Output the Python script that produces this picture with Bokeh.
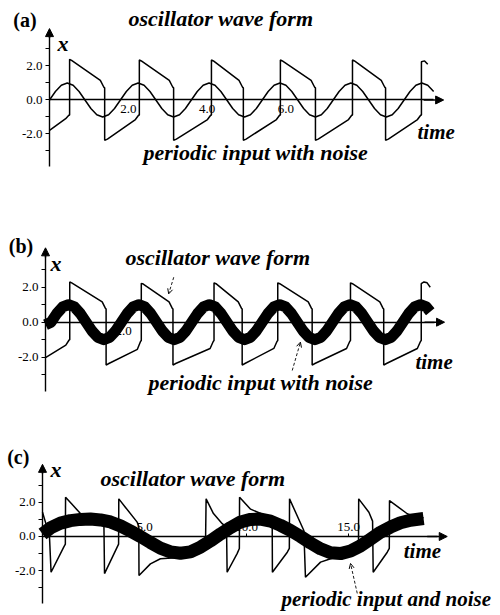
from bokeh.plotting import figure
from bokeh.models import (Range1d, LinearAxis, FixedTicker, PrintfTickFormatter,
                          Arrow, NormalHead, OpenHead, Label)
from bokeh.layouts import column
from bokeh.embed import file_html
from bokeh.resources import INLINE

SERIF = "Liberation Serif"

# ---------------- data ----------------
# panel (a): periodic input (thin) and oscillator wave form
a_in_t = [0.0, 0.15, 0.3, 0.45, 0.6, 0.75, 0.9, 1.05, 1.2, 1.35, 1.5, 1.65,
          1.8, 1.95, 2.1, 2.25, 2.4, 2.55, 2.7, 2.85, 3.0, 3.15, 3.3, 3.45,
          3.6, 3.75, 3.9, 4.05, 4.2, 4.35, 4.5, 4.65, 4.8, 4.95, 5.1, 5.25,
          5.4, 5.55, 5.7, 5.85, 6.0, 6.15, 6.3, 6.45, 6.6, 6.75, 6.9, 7.05,
          7.2, 7.35, 7.5, 7.65, 7.8, 7.95, 8.1, 8.25, 8.4, 8.55, 8.7, 8.85,
          9.0, 9.15, 9.3, 9.45, 9.6, 9.75]
a_in_x = [0.0, 0.5, 0.87, 1.0, 0.87, 0.5, 0.0, -0.5, -0.87, -1.0, -0.87, -0.5,
          0.0, 0.5, 0.87, 1.0, 0.87, 0.5, 0.0, -0.5, -0.87, -1.0, -0.87, -0.5,
          0.0, 0.5, 0.87, 1.0, 0.87, 0.5, 0.0, -0.5, -0.87, -1.0, -0.87, -0.5,
          0.0, 0.5, 0.87, 1.0, 0.87, 0.5, 0.0, -0.5, -0.87, -1.0, -0.87, -0.5,
          0.0, 0.5, 0.87, 1.0, 0.87, 0.5, 0.0, -0.5, -0.87, -1.0, -0.87, -0.5,
          0.0, 0.5, 0.87, 1.0, 0.87, 0.5]
a_osc_t = [0.0, 0.41, 0.49, 0.51, 0.51, 0.56, 1.29, 1.38, 1.40, 1.40, 1.47,
           2.18, 2.26, 2.28, 2.28, 2.33, 3.04, 3.13, 3.15, 3.15, 3.22,
           4.01, 4.09, 4.11, 4.11, 4.16, 4.81, 4.90, 4.92, 4.92, 4.99,
           5.76, 5.84, 5.86, 5.86, 5.91, 6.64, 6.73, 6.75, 6.75, 6.82,
           7.59, 7.67, 7.69, 7.69, 7.74, 8.42, 8.51, 8.53, 8.53, 8.60,
           9.34, 9.42, 9.44, 9.44, 9.52, 9.60]
a_osc_x = [-1.79, -1.10, -0.90, -0.88, 2.39, 2.33, 1.15, 0.75, 0.72, -2.37, -2.30,
           -1.15, -0.90, -0.88, 2.35, 2.30, 1.15, 0.75, 0.72, -2.37, -2.30,
           -1.15, -0.90, -0.88, 2.35, 2.30, 1.15, 0.75, 0.72, -2.37, -2.30,
           -1.15, -0.90, -0.88, 2.35, 2.30, 1.15, 0.75, 0.72, -2.37, -2.30,
           -1.15, -0.90, -0.88, 2.35, 2.30, 1.15, 0.75, 0.72, -2.37, -2.30,
           -1.15, -0.90, -0.88, 2.25, 2.30, 2.10]
a_xticks = [2.0, 4.0, 6.0]

# panel (b): periodic input with noise (thick band) and oscillator
b_in_t = [0.0, 0.14, 0.29, 0.44, 0.59, 0.74, 0.89, 1.04, 1.19, 1.34, 1.49, 1.64,
          1.79, 1.94, 2.09, 2.24, 2.39, 2.54, 2.69, 2.84, 2.99, 3.14, 3.29,
          3.44, 3.59, 3.74, 3.89, 4.04, 4.19, 4.34, 4.49, 4.64, 4.79, 4.94,
          5.09, 5.24, 5.39, 5.54, 5.69, 5.84, 5.99, 6.14, 6.29, 6.44, 6.59,
          6.74, 6.89, 7.04, 7.19, 7.34, 7.49, 7.64, 7.79, 7.94, 8.09, 8.24,
          8.39, 8.54, 8.69, 8.84, 8.99, 9.14, 9.29, 9.44, 9.59, 9.74, 9.84]
b_in_x = [-0.15, 0.0, 0.5, 0.87, 1.0, 0.87, 0.5, 0.0, -0.5, -0.87, -1.0, -0.87,
          -0.5, 0.0, 0.5, 0.87, 1.0, 0.87, 0.5, 0.0, -0.5, -0.87, -1.0,
          -0.87, -0.5, 0.0, 0.5, 0.87, 1.0, 0.87, 0.5, 0.0, -0.5, -0.87,
          -1.0, -0.87, -0.5, 0.0, 0.5, 0.87, 1.0, 0.87, 0.5, 0.0, -0.5,
          -0.87, -1.0, -0.87, -0.5, 0.0, 0.5, 0.87, 1.0, 0.87, 0.5, 0.0,
          -0.5, -0.87, -1.0, -0.87, -0.5, 0.0, 0.5, 0.87, 1.0, 0.87, 0.6]
b_osc_t = [0.0, 0.52, 0.60, 0.62, 0.62, 0.67, 1.45, 1.53, 1.55, 1.55, 1.62,
           2.35, 2.43, 2.45, 2.45, 2.50, 3.16, 3.24, 3.26, 3.26, 3.33,
           4.21, 4.29, 4.31, 4.31, 4.36, 4.93, 5.01, 5.03, 5.03, 5.10,
           5.84, 5.92, 5.94, 5.94, 5.99, 6.72, 6.80, 6.82, 6.82, 6.89,
           7.70, 7.78, 7.80, 7.80, 7.85, 8.55, 8.63, 8.65, 8.65, 8.72,
           9.51, 9.59, 9.61, 9.61, 9.68, 9.76, 9.84]
b_osc_x = [-2.02, -1.31, -1.03, -1.00, 2.30, 2.25, 1.16, 0.80, 0.75, -2.45, -2.36,
           -1.55, -1.10, -1.05, 2.22, 2.18, 1.16, 0.80, 0.75, -2.45, -2.36,
           -1.50, -1.10, -1.05, 2.25, 2.20, 1.16, 0.80, 0.75, -2.45, -2.36,
           -1.50, -1.10, -1.05, 2.25, 2.20, 1.16, 0.80, 0.75, -2.45, -2.36,
           -1.50, -1.10, -1.05, 2.25, 2.20, 1.16, 0.80, 0.75, -2.45, -2.36,
           -1.50, -1.10, -1.05, 2.20, 2.30, 2.25, 2.00]
b_xticks = [2.0]

# panel (c): slow periodic input and noise (thick band) and spiking oscillator
c_in_t = [0.0, 0.39, 0.88, 1.37, 1.86, 2.35, 2.84, 3.33, 3.82, 4.31, 4.80,
          5.29, 5.78, 6.27, 6.76, 7.25, 7.75, 8.24, 8.73, 9.22, 9.71, 10.2,
          10.69, 11.18, 11.67, 12.16, 12.65, 13.14, 13.63, 14.12, 14.61,
          15.1, 15.59, 16.08, 16.57, 17.06, 17.55, 18.04, 18.68]
c_in_x = [0.15, 0.5, 0.78, 0.93, 1.0, 1.02, 0.97, 0.85, 0.62, 0.32, 0.0,
          -0.35, -0.68, -0.9, -0.98, -0.9, -0.62, -0.25, 0.15, 0.52, 0.85, 1.0,
          1.02, 0.9, 0.65, 0.35, 0.0, -0.38, -0.72, -0.95, -1.0,
          -0.85, -0.55, -0.15, 0.25, 0.55, 0.8, 0.95, 1.05]
c_osc_t = [0.00, 0.34, 0.42, 1.04, 1.12, 1.13, 1.47, 1.95, 2.45, 3.01, 3.04,
           3.66, 3.73, 3.74, 4.07, 4.64, 4.72, 4.73, 5.29, 5.78, 6.52, 7.25,
           7.75, 7.99, 8.02, 8.38, 8.81, 9.02, 9.05, 9.54, 9.65, 9.66, 10.20,
           10.78, 11.18, 11.26, 11.27, 12.00, 12.10, 12.11, 12.81, 12.89,
           13.63, 14.12, 14.85, 15.34, 15.49, 15.50, 16.00, 16.18, 16.21,
           16.90, 17.00, 17.01, 17.88, 18.28, 18.68]
c_osc_x = [1.42, 0.05, -2.09, -0.62, -0.45, 2.30, 1.85, 1.23, 1.00, 0.75, -2.17,
           -0.62, -0.45, 2.20, 1.70, 0.84, 0.60, -2.28, -1.60, -1.30, -1.25, -1.15,
           -0.80, -0.50, 2.20, 1.34, 0.75, 0.55, -2.09, -1.00, -0.70, 2.30, 1.60,
           1.30, 0.85, 0.70, -2.09, -0.92, -0.70, 2.20, 0.35, -2.38,
           -1.50, -1.30, -1.05, -0.60, -0.40, 2.20, 1.42, 0.90, -2.09,
           -0.92, -0.70, 2.10, 1.33, 1.15, 1.10]
c_xticks = [5.0, 10.0, 15.0]

y_major = [-2.0, 0.0, 2.0]
y_minor = [-3.0, -1.0, 1.0, 3.0]


def panel(height, xr, yr, x_end, y_bounds, xticks, xtick_len, xside="below", standoff=5):
    p = figure(width=500, height=height, x_range=Range1d(*xr), y_range=Range1d(*yr),
               x_axis_location=None, y_axis_location=None, toolbar_location=None,
               output_backend="svg", min_border=0, outline_line_color=None,
               background_fill_color="white", border_fill_color="white")
    p.xgrid.grid_line_color = None
    p.ygrid.grid_line_color = None
    xa = LinearAxis(fixed_location=0, bounds=(0, x_end),
                    ticker=FixedTicker(ticks=xticks, minor_ticks=[]),
                    formatter=PrintfTickFormatter(format="%.1f"),
                    major_tick_in=0, major_tick_out=xtick_len,
                    minor_tick_in=0, minor_tick_out=0,
                    axis_line_width=1.4, axis_line_color="black",
                    major_tick_line_color="black",
                    major_label_standoff=standoff,
                    major_label_text_font=SERIF, major_label_text_font_size="13px",
                    major_label_text_color="black")
    p.add_layout(xa, xside)
    ya = LinearAxis(fixed_location=0, bounds=y_bounds,
                    ticker=FixedTicker(ticks=y_major, minor_ticks=y_minor),
                    formatter=PrintfTickFormatter(format="%.1f"),
                    major_tick_in=0, major_tick_out=4,
                    minor_tick_in=0, minor_tick_out=4,
                    axis_line_width=1.4, axis_line_color="black",
                    major_tick_line_color="black", minor_tick_line_color="black",
                    major_label_standoff=3,
                    major_label_text_font=SERIF, major_label_text_font_size="13px",
                    major_label_text_color="black")
    p.add_layout(ya, "left")
    # arrow heads on the axes
    p.add_layout(Arrow(end=NormalHead(size=8, fill_color="black", line_color="black"),
                       x_start=0, y_start=y_bounds[1] - 0.3, x_end=0, y_end=y_bounds[1] + 0.25,
                       line_width=1.4, line_color="black"))
    dx = (xr[1] - xr[0]) * 0.02
    p.add_layout(Arrow(end=NormalHead(size=8, fill_color="black", line_color="black"),
                       x_start=x_end - dx, y_start=0, x_end=x_end + dx, y_end=0,
                       line_width=1.4, line_color="black"))
    return p


def label(p, x, y, text, size="22px", style="bold italic"):
    p.add_layout(Label(x=x, y=y, text=text, text_font=SERIF, text_font_style=style,
                       text_font_size=size, text_color="black",
                       text_baseline="alphabetic", text_align="left"))


def pointer(p, x0, y0, x1, y1):
    p.add_layout(Arrow(end=OpenHead(size=5, line_width=1, line_color="black"),
                       x_start=x0, y_start=y0, x_end=x1, y_end=y1,
                       line_width=0.9, line_color="black", line_dash="3 2"))


# ---- panel (a)
pa = panel(200, (-1.244, 11.447), (-5.912, 5.853), 9.75, (-3.91, 3.95), a_xticks, 0)
pa.line(a_in_t, a_in_x, line_width=1.5, color="black")
pa.line(a_osc_t, a_osc_x, line_width=1.5, color="black")
label(pa, -0.921, 4.73, "(a)", size="20px", style="bold")
label(pa, 2.005, 4.78, "oscillator wave form")
label(pa, 0.203, 3.30, "x")
label(pa, 2.386, -3.07, "periodic input with noise")
label(pa, 9.34, -1.90, "time", size="21px")

# ---- panel (b)
pb = panel(200, (-1.151, 11.637), (-4.474, 6.954), 9.95, (-3.98, 4.0), b_xticks, 0)
pb.line(b_in_t, b_in_x, line_width=11, color="black", line_join="round", line_cap="butt")
pb.line(b_osc_t, b_osc_x, line_width=1.5, color="black")
label(pb, -0.939, 4.33, "(b)", size="20px", style="bold")
label(pb, 2.046, 3.72, "oscillator wave form")
label(pb, 0.128, 3.34, "x")
label(pb, 2.634, -3.42, "periodic input with noise")
label(pb, 9.46, -2.28, "time", size="21px")
pointer(pb, 3.28, 2.57, 3.15, 1.62)
pointer(pb, 6.31, -2.76, 6.52, -1.14)

# ---- panel (c)
pc = panel(215, (-2.059, 22.451), (-4.620, 7.953), 19.35, (-3.92, 3.97), c_xticks, 3,
           xside="above", standoff=2)
pc.line(c_in_t, c_in_x, line_width=13, color="black", line_join="round", line_cap="butt")
pc.line(c_osc_t, c_osc_x, line_width=1.5, color="black")
label(pc, -1.73, 4.64, "(c)", size="20px", style="bold")
label(pc, 2.843, 3.37, "oscillator wave form")
label(pc, 0.392, 3.92, "x")
label(pc, 11.72, -3.66, "periodic input and noise", size="21px")
label(pc, 17.71, -0.82, "time", size="21px")
pointer(pc, 15.43, -3.33, 15.1, -1.58)

layout = column(pa, pb, pc)
open("out.html", "w").write(file_html(layout, INLINE))
